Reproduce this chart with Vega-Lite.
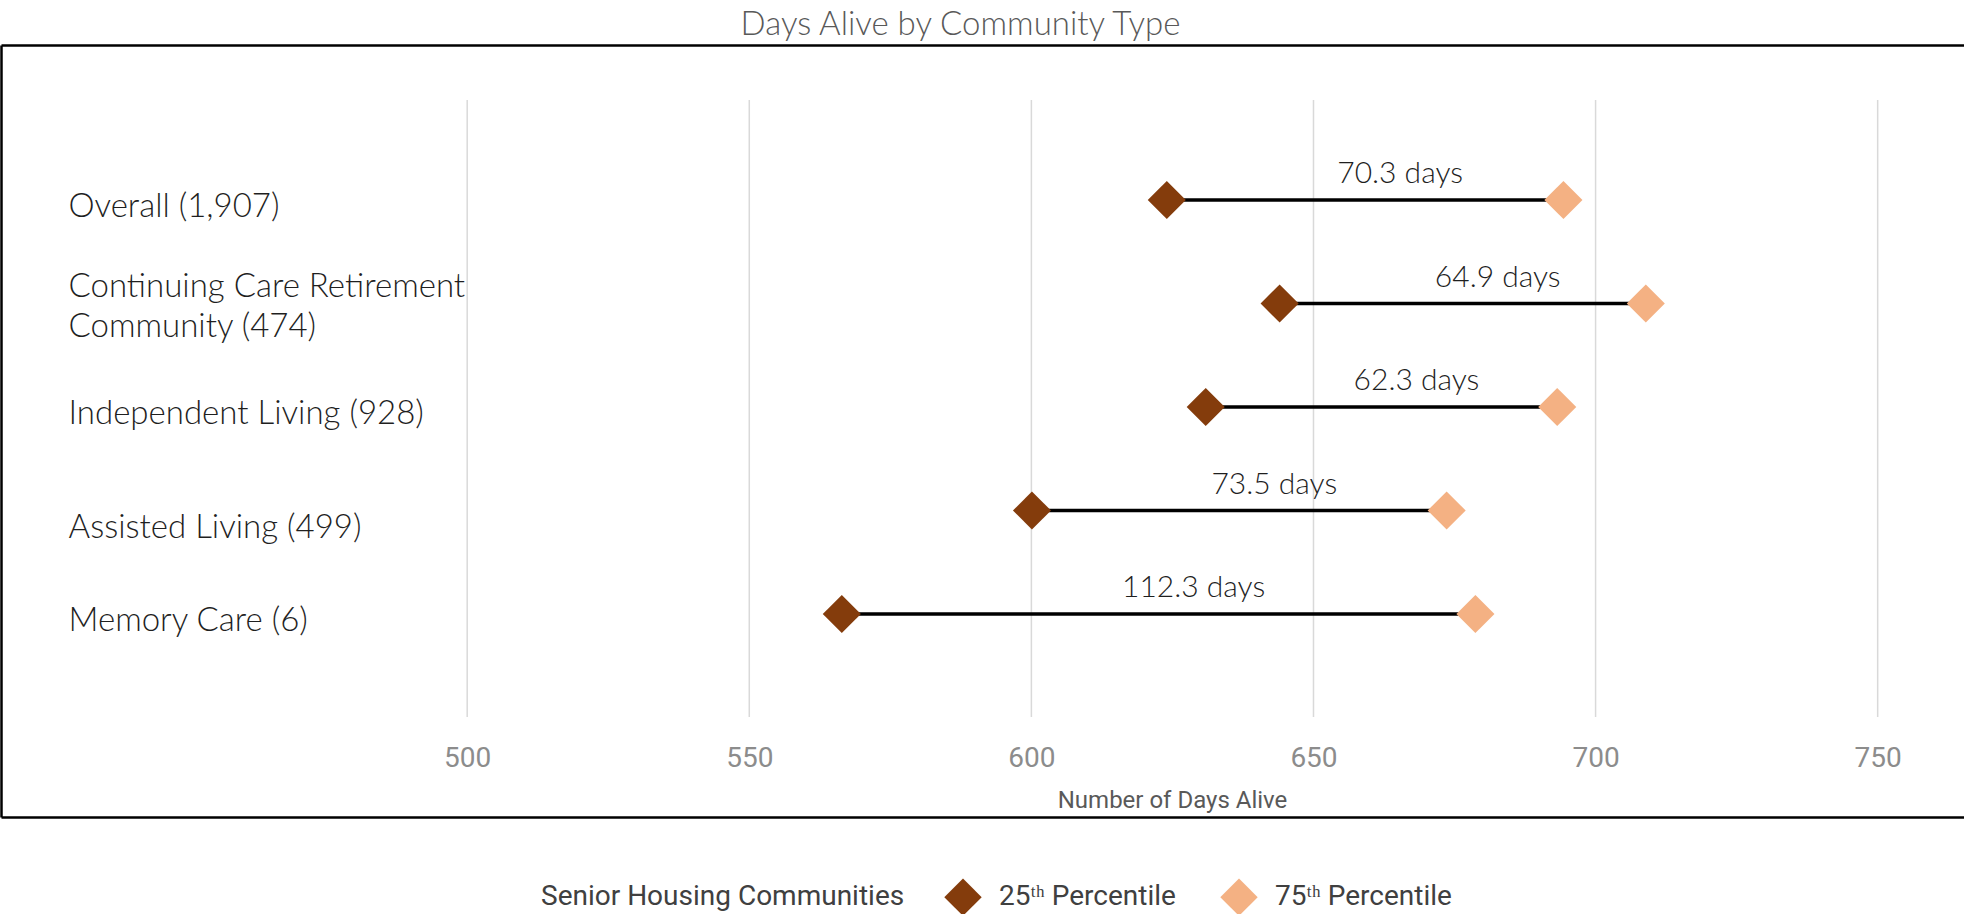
{
  "$schema": "https://vega.github.io/schema/vega-lite/v6.json",
  "width": 1963,
  "height": 772,
  "autosize": {"type": "none"},
  "padding": {"left": 1, "top": 45, "right": 0, "bottom": 97},
  "background": "white",
  "config": {"view": {"stroke": null}},
  "title": {
    "text": "Days Alive by Community Type",
    "anchor": "middle",
    "frame": "group",
    "dx": -22,
    "dy": 39,
    "offset": 9,
    "baseline": "bottom",
    "font": "Lato",
    "fontWeight": 300,
    "fontSize": 33,
    "color": "#595959"
  },
  "datasets": {
    "rows": [
      {"community": "Overall (1,907)", "percentile": "25ᵗʰ Percentile", "days": 624.0, "gap": "70.3 days"},
      {"community": "Overall (1,907)", "percentile": "75ᵗʰ Percentile", "days": 694.3, "gap": "70.3 days"},
      {"community": "Continuing Care Retirement|Community (474)", "percentile": "25ᵗʰ Percentile", "days": 644.0, "gap": "64.9 days"},
      {"community": "Continuing Care Retirement|Community (474)", "percentile": "75ᵗʰ Percentile", "days": 708.9, "gap": "64.9 days"},
      {"community": "Independent Living (928)", "percentile": "25ᵗʰ Percentile", "days": 630.9, "gap": "62.3 days"},
      {"community": "Independent Living (928)", "percentile": "75ᵗʰ Percentile", "days": 693.2, "gap": "62.3 days"},
      {"community": "Assisted Living (499)", "percentile": "25ᵗʰ Percentile", "days": 600.1, "gap": "73.5 days"},
      {"community": "Assisted Living (499)", "percentile": "75ᵗʰ Percentile", "days": 673.6, "gap": "73.5 days"},
      {"community": "Memory Care (6)", "percentile": "25ᵗʰ Percentile", "days": 566.4, "gap": "112.3 days"},
      {"community": "Memory Care (6)", "percentile": "75ᵗʰ Percentile", "days": 678.7, "gap": "112.3 days"}
    ],
    "grid": [{"v": 500}, {"v": 550}, {"v": 600}, {"v": 650}, {"v": 700}, {"v": 750}]
  },
  "layer": [
    {
      "data": {"name": "grid"},
      "mark": {"type": "rule", "color": "#d9d9d9", "strokeWidth": 1.5},
      "encoding": {
        "x": {
          "field": "v", "type": "quantitative",
          "scale": {"domain": [417.37, 765.3], "nice": false, "zero": false},
          "axis": {"orient": "top", "labels": false, "ticks": false, "grid": false, "domain": true, "domainColor": "#000000", "domainWidth": 2.5, "title": null}
        },
        "y": {
          "datum": 0, "type": "quantitative",
          "scale": {"domain": [-0.162, 1.089], "nice": false, "zero": false},
          "axis": {"orient": "left", "labels": false, "ticks": false, "grid": false, "domain": true, "domainColor": "#000000", "domainWidth": 2.5, "title": null}
        },
        "y2": {"datum": 1}
      }
    },
    {
      "data": {"name": "rows"},
      "encoding": {
        "y": {
          "field": "community", "type": "nominal", "sort": null,
          "scale": {"type": "point", "padding": 0, "range": [155, 569]},
          "axis": {
            "orient": "left", "title": null, "domain": false,
            "ticks": false, "tickSize": 0, "grid": false,
            "labelAlign": "left", "labelBaseline": "middle", "labelPadding": -67,
            "labelOffset": {"condition": [
              {"test": "datum.value == 'Assisted Living (499)'", "value": 17},
              {"test": "indexof(datum.value, '|') >= 0", "value": -17}
            ], "value": 6},
            "labelFont": "Lato", "labelFontWeight": 300, "labelFontSize": 33, "labelColor": "#1f1f1f",
            "labelExpr": "split(datum.label, '|')", "labelLineHeight": 40, "labelLimit": 0, "labelOverlap": false
          }
        },
        "x": {
          "field": "days", "type": "quantitative", "title": "Number of Days Alive",
          "scale": {"domain": [417.37, 765.3], "nice": false, "zero": false},
          "axis": {
            "orient": "bottom", "domain": true, "domainColor": "#000000", "domainWidth": 2.5,
            "ticks": false, "tickSize": 0, "grid": false, "values": [500, 550, 600, 650, 700, 750],
            "labelPadding": -59, "labelBaseline": "middle", "labelFont": "Roboto", "labelFontSize": 28, "labelColor": "#8c8c8c",
            "title": "Number of Days Alive", "titleFont": "Roboto", "titleFontSize": 24, "titleFontWeight": "normal",
            "titleColor": "#595959", "titleX": 1171, "titleY": -17, "titleAlign": "center", "titleBaseline": "middle", "titleAnchor": null
          }
        }
      },
      "layer": [
        {
          "mark": {"type": "line", "color": "#000000", "strokeWidth": 3.5},
          "encoding": {"detail": {"field": "community"}}
        },
        {
          "mark": {"type": "point", "shape": "diamond", "filled": true, "opacity": 1, "size": 1450, "strokeWidth": 0},
          "encoding": {
            "color": {
              "field": "percentile", "type": "nominal",
              "scale": {"domain": ["25ᵗʰ Percentile", "75ᵗʰ Percentile"], "range": ["#843c0c", "#f4b183"]},
              "legend": {
                "orient": "none", "legendX": 540, "legendY": 833, "direction": "horizontal",
                "title": "Senior Housing Communities", "titleOrient": "left", "titleFont": "Roboto", "titleFontSize": 28,
                "titleFontWeight": "normal", "titleColor": "#404040", "titlePadding": 39, "titleBaseline": "middle", "titleLimit": 600,
                "labelFont": "Roboto", "labelFontSize": 28, "labelColor": "#404040", "labelOffset": 17, "labelLimit": 400,
                "columnPadding": 44, "symbolType": "diamond", "symbolSize": 1400, "symbolStrokeWidth": 0, "symbolOpacity": 1
              }
            }
          }
        },
        {
          "mark": {"type": "text", "font": "Lato", "fontWeight": 300, "fontSize": 30, "color": "#1f1f1f", "dx": 35, "dy": -26, "baseline": "middle", "align": "center"},
          "encoding": {
            "x": {"aggregate": "mean", "field": "days", "type": "quantitative", "title": "Number of Days Alive"},
            "text": {"field": "gap", "type": "nominal"}
          }
        }
      ]
    }
  ],
  "resolve": {"scale": {"x": "independent", "y": "independent"}, "axis": {"x": "independent", "y": "independent"}}
}
